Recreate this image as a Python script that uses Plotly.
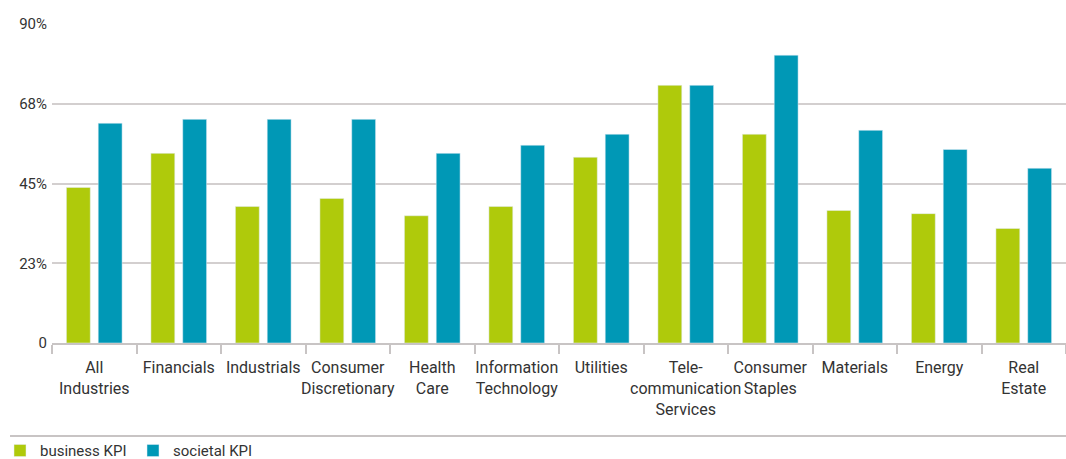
import plotly.graph_objects as go

categories = ["All<br>Industries", "Financials", "Industrials", "Consumer<br>Discretionary",
              "Health<br>Care", "Information<br>Technology", "Utilities",
              "Tele-<br>communication<br>Services", "Consumer<br>Staples", "Materials",
              "Energy", "Real<br>Estate"]
business_kpi = [43.9, 53.5, 38.5, 40.8, 35.9, 38.5, 52.4, 72.7, 58.9, 37.4, 36.5, 32.3]
societal_kpi = [62.0, 63.1, 63.1, 63.1, 53.5, 55.8, 58.9, 72.7, 81.2, 60.0, 54.6, 49.3]
tick_vals = [0, 22.5, 45, 67.5, 90]
tick_text = ["0", "23%", "45%", "68%", "90%"]

GREEN = "#afca0b"
BLUE = "#0098b6"
FONT = "Roboto, sans-serif"

fig = go.Figure()
fig.add_trace(go.Bar(x=categories, y=business_kpi, name="business KPI", marker_color=GREEN))
fig.add_trace(go.Bar(x=categories, y=societal_kpi, name="societal KPI", marker_color=BLUE))

fig.update_layout(
    width=1066, height=459,
    margin=dict(l=52, r=0, t=24, b=116),
    paper_bgcolor="white", plot_bgcolor="white",
    barmode="group", bargap=0.247, bargroupgap=0.25,
    font=dict(family=FONT, size=16, color="#333333"),
    showlegend=True,
    legend=dict(orientation="h", xref="container", yref="container", x=0, xanchor="left",
                y=0.018, yanchor="middle",
                font=dict(size=15, color="#333333"), entrywidth=88, entrywidthmode="pixels",
                traceorder="normal", bgcolor="rgba(0,0,0,0)"),
    xaxis=dict(type="category", tickson="boundaries", ticks="outside", ticklen=9,
               tickcolor="#c8c4c4", tickwidth=2, showline=True, linecolor="#c8c4c4",
               linewidth=2, showgrid=False, tickfont=dict(size=16, color="#333333"),
               tickangle=0, automargin=False, ticklabelstandoff=9, range=[-0.5, 11.5]),
    yaxis=dict(range=[0, 90], tickvals=tick_vals, ticktext=tick_text, showgrid=True,
               gridcolor="#d3cfcf", gridwidth=1.5, zeroline=False, showline=False,
               ticks="", tickfont=dict(size=15, color="#333333"), ticklabelstandoff=4,
               automargin=False),
    shapes=[dict(type="line", xref="paper", yref="paper", x0=-0.0414, x1=1,
                 y0=-0.2915, y1=-0.2915, line=dict(color="#c8c4c4", width=2))],
)

fig.write_html("out.html")
